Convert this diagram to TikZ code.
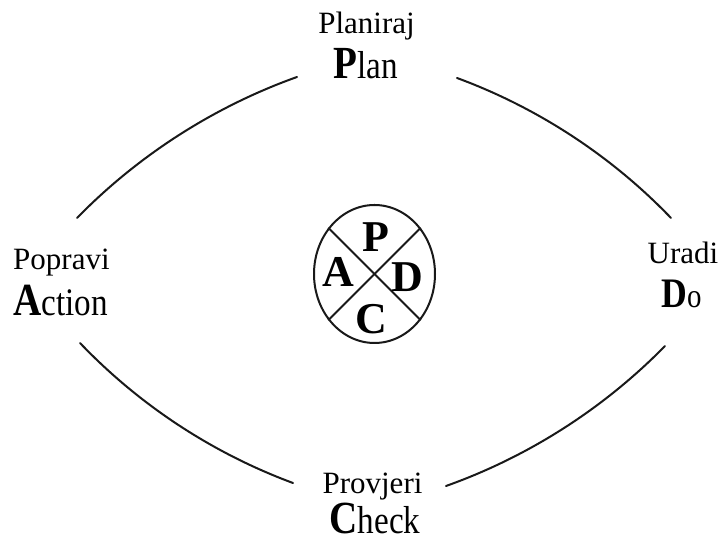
\documentclass[tikz,border=0pt]{standalone}
\usepackage{fontspec}
\usepackage{graphicx}
\setmainfont{Liberation Serif}
\usetikzlibrary{shapes.geometric}
\newcommand{\Ini}[1]{{\bfseries\fontsize{46}{46}\selectfont #1}}
\newcommand{\Low}[1]{\scalebox{0.85}[1]{\fontsize{39}{39}\selectfont #1}}
\begin{document}
\begin{tikzpicture}[x=1pt,y=1pt,
  cyc/.style={draw=black!90, line width=2pt, line cap=round},
  upper/.style={inner sep=0pt, anchor=base, font=\fontsize{31}{31}\selectfont},
  lower/.style={inner sep=0pt, anchor=base},
  quad/.style={inner sep=0pt, font=\fontsize{44}{44}\selectfont\bfseries}]
\useasboundingbox (0,0) rectangle (724,543);
% arc end points
\coordinate (a1) at (77,325);
\coordinate (b1) at (297,466);
\coordinate (a2) at (457,465);
\coordinate (b2) at (671,325);
\coordinate (a3) at (665,197);
\coordinate (b3) at (446,57);
\coordinate (a4) at (293,60);
\coordinate (b4) at (80,200);
\draw[cyc] (a1) to[bend left=13, looseness=0.86] (b1);
\draw[cyc] (a2) to[bend left=13, looseness=0.86] (b2);
\draw[cyc] (a3) to[bend left=13, looseness=0.86] (b3);
\draw[cyc] (a4) to[bend left=13, looseness=0.86] (b4);
% labels
\node[upper] (plan1) at (366.5,509) {Planiraj};
\node[lower] (plan2) at (366,464) {\Low{\Ini{P}lan}};
\node[upper, anchor=base west] (act1) at (13,273) {Popravi};
\node[lower, anchor=base west] (act2) at (13,227) {\Low{\Ini{A}ction}};
\node[upper] (do1) at (683,279) {Uradi};
\node[lower] (do2) at (681.5,235) {\scalebox{0.85}[1]{{\bfseries\fontsize{42}{42}\selectfont D}\fontsize{34}{34}\selectfont o}};
\node[upper] (chk1) at (372.5,49) {Provjeri};
\node[lower] (chk2) at (375,9) {\Low{\Ini{C}heck}};
% central ellipse
\node[draw=black!90, line width=2pt, ellipse, minimum width=121pt, minimum height=138pt, inner sep=0pt] (el) at (374.5,269) {};
\draw[cyc, line cap=butt] (el.45) -- (el.225);
\draw[cyc, line cap=butt] (el.135) -- (el.315);
\node[quad] (qp) at (376,306) {P};
\node[quad] (qa) at (338,271) {A};
\node[quad] (qd) at (407,266) {D};
\node[quad] (qc) at (371,224) {C};
\end{tikzpicture}
\end{document}
